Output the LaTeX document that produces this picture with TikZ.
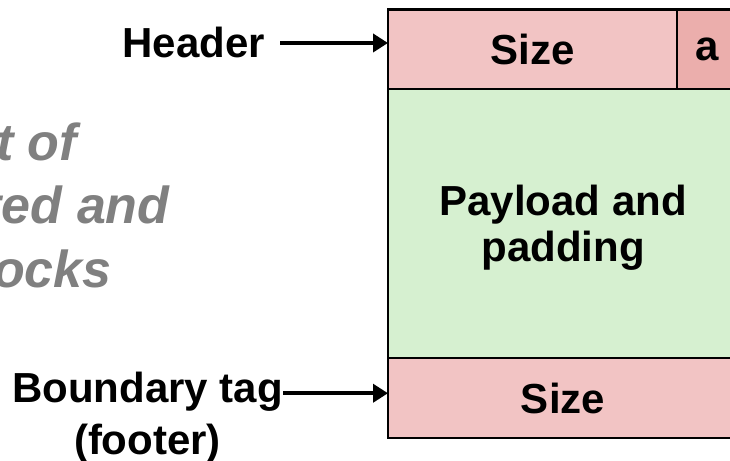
\documentclass[tikz,border=0pt]{standalone}
\usepackage{fontspec}
\setmainfont{Liberation Sans}
\usepackage[svgnames]{xcolor}
\usetikzlibrary{arrows.meta,positioning}

\definecolor{hdrpink}{RGB}{242,196,196}
\definecolor{bitpink}{RGB}{235,174,172}
\definecolor{padgreen}{RGB}{214,240,208}

\begin{document}
\begin{tikzpicture}[x=1pt,y=-1pt,
  cell/.style={draw=black, line width=2.8pt, inner sep=0pt, outer sep=0pt, anchor=north west,
    align=center, font=\bfseries\fontsize{42}{46}\selectfont},
  lbl/.style={inner sep=0pt, font=\bfseries\fontsize{42}{52}\selectfont},
  ptr/.style={line width=4pt, -{Triangle[length=15pt,width=18pt]}}]

% block specifications
\def\bx{388} % left edge of block
\def\by{9.5} % top edge of block
\def\bw{350} % width of block
\def\aw{61} % width of allocated bit field
\def\hh{79.5} % height of header
\def\ph{269} % height of payload
\def\fh{80} % height of footer

% page and clipping
\useasboundingbox (0,0) rectangle (730,460);
\clip (0,0) rectangle (730,460);

% header, payload and footer
\node[cell, fill=hdrpink, minimum width=\bw-\aw, minimum height=\hh] (hsize) at (\bx,\by) {Size};
\node[cell, fill=bitpink, minimum width=\aw, minimum height=\hh] (abit) at (hsize.north east) {a};
\node[cell, fill=padgreen, minimum width=\bw, minimum height=\ph, text depth=0pt] (payload) at (hsize.south west) {Payload and\\padding};
\node[cell, fill=hdrpink, minimum width=\bw, minimum height=\fh] (fsize) at (payload.south west) {Size};

% title text on the left (base is its last line)
\node[anchor=base west, align=left, inner sep=0pt, text=gray,
  font=\bfseries\itshape\fontsize{52}{63.5}\selectfont] (fmt) at (-163,287) {Format of\\allocated and\\free blocks};

% labels and pointers
\node[lbl, anchor=base east] (hdr) at (265,58) {Header};
\draw[ptr] ([xshift=15pt]hdr.east) -- (hdr.east -| hsize.west);

\node[lbl, anchor=base] (btag) at (147.5,402) {Boundary tag};
\node[lbl, anchor=base] (foot) at ([yshift=-52pt]btag.base) {(footer)};
\draw[ptr] ([yshift=-2pt]btag.east) -- ([yshift=-2pt]btag.east -| fsize.west);

\end{tikzpicture}
\end{document}
